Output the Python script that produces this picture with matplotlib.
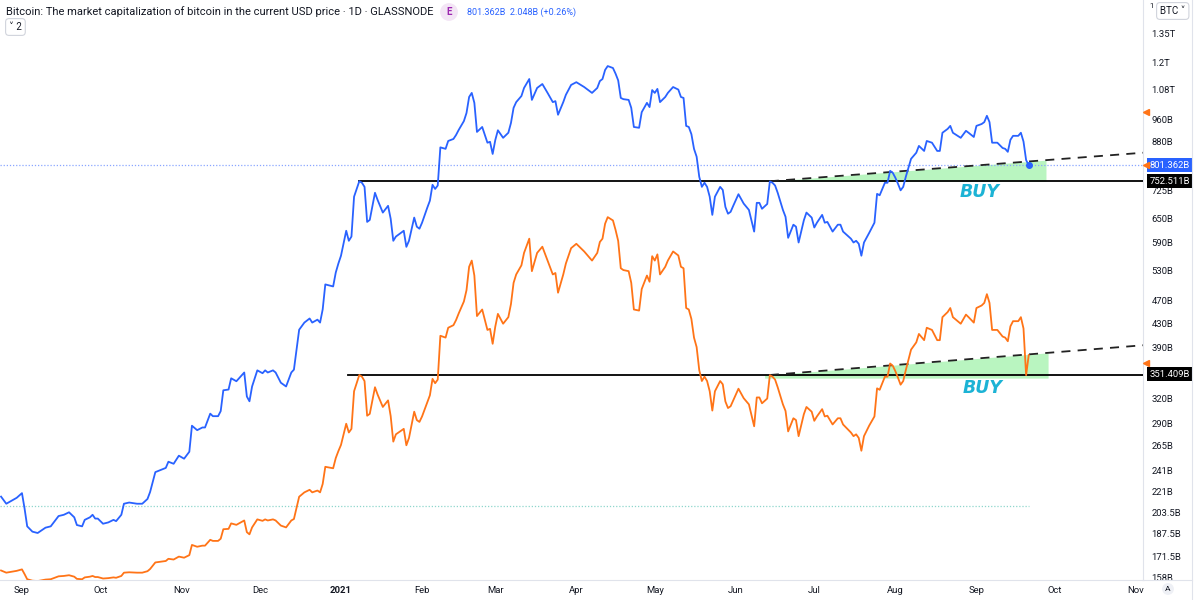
import numpy as np
import pandas as pd
import matplotlib
matplotlib.use('Agg')
import matplotlib.pyplot as plt
import matplotlib.transforms as mtransforms
from matplotlib.lines import Line2D

plt.rcParams['font.family'] = ['Roboto', 'DejaVu Sans']

start = pd.Timestamp('2020-09-01')

# days since 2020-09-01 / bitcoin market cap in billions USD
day = [-8, -6, -2, 0, 1, 2, 4, 6, 9, 11, 14, 16, 18, 20, 21, 23, 24, 26, 27, 28,
       29, 31, 33, 35, 36, 38, 39, 41, 44, 46, 48, 49, 51, 53, 55, 56, 58, 60, 62, 64,
       65, 67, 69, 70, 72, 73, 75, 76, 77, 79, 80, 82, 85, 86, 87, 88, 90, 92, 93, 94,
       96, 97, 99, 101, 103, 104, 106, 108, 110, 111, 113, 114, 115, 116, 119, 120, 121, 122, 124, 125,
       126, 127, 129, 130, 131, 132, 133, 135, 136, 138, 140, 141, 142, 143, 146, 147, 148, 150, 151, 152,
       153, 155, 156, 157, 158, 159, 160, 162, 163, 165, 166, 167, 169, 170, 171, 172, 173, 174, 176, 178,
       179, 180, 181, 182, 184, 186, 187, 188, 189, 191, 192, 194, 195, 197, 199, 201, 203, 204, 205, 207,
       208, 210, 212, 215, 218, 220, 221, 222, 223, 224, 226, 227, 228, 229, 230, 232, 233, 234, 236, 237,
       239, 240, 241, 242, 243, 244, 246, 247, 249, 251, 252, 253, 254, 255, 256, 257, 258, 259, 260, 261,
       262, 263, 264, 265, 267, 268, 269, 270, 271, 272, 274, 276, 278, 280, 281, 282, 283, 285, 286, 287,
       288, 289, 291, 292, 293, 295, 296, 297, 299, 300, 302, 303, 304, 306, 307, 308, 310, 312, 313, 314,
       317, 318, 319, 320, 321, 322, 324, 326, 327, 328, 330, 331, 332, 333, 334, 335, 336, 337, 338, 340,
       342, 343, 345, 346, 348, 350, 351, 352, 354, 355, 356, 359, 361, 362, 364, 365, 367, 368, 369, 370,
       371, 373, 375, 376, 377, 378, 379, 381, 382, 383, 384, 385]

# blue series, on the visible log scale
mcap = [217, 211, 216, 220, 207, 193, 189, 188, 192, 193, 201, 202, 204, 200, 194, 193, 198, 200, 202, 199,
        199, 195, 196, 198, 197, 202, 211, 212, 211, 211, 215, 221, 239, 241, 243, 249, 247, 255, 252, 259,
        287, 282, 285, 285, 301, 298, 298, 304, 330, 331, 346, 342, 354, 322, 316, 335, 357, 353, 357, 354,
        357, 354, 340, 335, 354, 358, 419, 431, 438, 431, 436, 431, 454, 501, 497, 525, 544, 561, 619, 595,
        605, 708, 752.5, 748, 736, 641, 646, 719, 699, 665, 683, 649, 595, 605, 619, 581, 595, 652, 629, 624,
        639, 678, 697, 742, 730, 740, 860, 855, 882, 889, 903, 921, 954, 985, 1049, 1066, 1025, 914, 932, 876,
        879, 838, 885, 920, 893, 911, 947, 1005, 1028, 1053, 1087, 1126, 1037, 1087, 1104, 1066, 1028, 1032, 978, 1028,
        1058, 1100, 1112, 1091, 1066, 1087, 1117, 1126, 1167, 1185, 1176, 1150, 1120, 1045, 1040, 1037, 1005, 932, 929, 988,
        1025, 1008, 1078, 1066, 1083, 1028, 1049, 1066, 1091, 1080, 1049, 1045, 936, 932, 906, 855, 829, 766, 736, 748,
        736, 708, 659, 708, 736, 727, 680, 662, 667, 683, 715, 689, 672, 617, 691, 691, 675, 688, 752, 748,
        740, 719, 672, 654, 602, 634, 629, 591, 645, 665, 652, 627, 639, 659, 639, 641, 617, 634, 634, 617,
        600, 591, 595, 588, 561, 591, 614, 639, 716, 712, 748, 748, 784, 778, 763, 745, 726, 736, 766, 822,
        842, 865, 848, 882, 876, 848, 848, 911, 925, 936, 911, 893, 918, 911, 896, 936, 943, 950, 974, 950,
        876, 876, 858, 855, 845, 886, 900, 900, 911, 880, 818, 801.362]

# orange series, on its own hidden linear scale
mcap_orange = [217, 211, 216, 220, 207, 193, 189, 188, 192, 193, 201, 202, 204, 200, 194, 193, 198, 200, 202, 199,
               199, 195, 196, 198, 197, 202, 211, 212, 211, 211, 215, 221, 239, 241, 243, 249, 247, 255, 252, 259,
               287, 282, 285, 285, 301, 298, 298, 304, 330, 331, 346, 342, 354, 322, 316, 335, 357, 353, 357, 354,
               357, 354, 340, 335, 354, 358, 419, 431, 438, 431, 436, 431, 454, 501, 497, 525, 544, 561, 619, 595,
               605, 708, 752.5, 748, 736, 641, 646, 719, 699, 665, 683, 640, 570, 590, 605, 560, 580, 652, 629, 624,
               639, 678, 697, 742, 730, 740, 860, 855, 882, 889, 903, 921, 954, 985, 1049, 1066, 1025, 914, 932, 876,
               879, 838, 885, 920, 893, 911, 947, 1005, 1028, 1053, 1087, 1126, 1037, 1087, 1104, 1066, 1028, 1032, 978, 1028,
               1058, 1100, 1112, 1091, 1066, 1087, 1117, 1126, 1167, 1185, 1176, 1150, 1120, 1045, 1040, 1037, 1005, 932, 929, 988,
               1025, 1008, 1078, 1066, 1083, 1028, 1049, 1066, 1091, 1080, 1049, 1045, 936, 932, 906, 855, 829, 766, 736, 748,
               736, 708, 655, 708, 736, 727, 680, 662, 667, 683, 715, 689, 672, 612, 691, 691, 675, 688, 752, 748,
               740, 719, 672, 654, 598, 634, 629, 585, 645, 665, 652, 627, 639, 659, 639, 641, 617, 634, 634, 617,
               595, 585, 590, 580, 545, 585, 614, 639, 716, 712, 748, 748, 784, 778, 763, 745, 726, 736, 766, 822,
               842, 865, 848, 882, 876, 848, 848, 911, 925, 936, 911, 893, 918, 911, 896, 936, 943, 950, 974, 950,
               876, 876, 858, 855, 845, 886, 900, 900, 911, 880, 752, 807]

ytick_vals = [1350, 1200, 1080, 960, 880, 725, 650, 590, 530, 470, 430, 390,
              320, 290, 265, 241, 221, 203.5, 187.5, 171.5, 158]
ytick_labels = ['1.35T', '1.2T', '1.08T', '960B', '880B', '725B', '650B', '590B',
                '530B', '470B', '430B', '390B', '320B', '290B', '265B', '241B',
                '221B', '203.5B', '187.5B', '171.5B', '158B']
month_labels = ['Sep', 'Oct', 'Nov', 'Dec', '2021', 'Feb', 'Mar', 'Apr', 'May',
                'Jun', 'Jul', 'Aug', 'Sep', 'Oct', 'Nov']

last_value = 801.362
resistance = 752.511
resistance_label_2 = 351.409
trend_start_day = 286
trend_end_blue = 842      # trendline value at right edge (blue pane)
trend_end_orange = 834    # trendline value at right edge (orange pane)
old_line_level = 209      # teal dotted line

BLUE = '#2962ff'
ORANGE = '#ff7417'
GREEN = '#b9f5c0'
BUY_COLOR = '#1cb3d5'
TEXT = '#131722'
GRID = '#e0e3eb'

dates = start + pd.to_timedelta(day, unit='D')
d = lambda n: start + pd.Timedelta(days=n)
x_left, x_right = d(-8.4), d(428.7)

fig = plt.figure(figsize=(12, 6), dpi=100)
ax = fig.add_axes([0, 20 / 600, 1143 / 1200, 580 / 600])
ax2 = ax.twinx()

# main (log) scale
ax.set_yscale('log')
ax.set_ylim(156.2, 1537.6)
ax.set_xlim(x_left, x_right)
ax2.set_ylim(190.9, 1779.9)   # hidden linear scale of the orange series

ax.plot(dates, mcap, color=BLUE, lw=1.3, zorder=4)
ax.plot(dates[-1], mcap[-1], 'o', color=BLUE, ms=4, zorder=5)
ax2.plot(dates, mcap_orange, color=ORANGE, lw=1.3, zorder=4)

# horizontal levels
ax.plot([d(129), x_right], [resistance, resistance], color='black', lw=1.3, zorder=3)
ax2.plot([d(124.7), x_right], [resistance, resistance], color='black', lw=1.3, zorder=3)
ax.axhline(last_value, color='#8aa6ff', lw=0.9, ls=(0, (1, 1.5)), zorder=2)
ax.plot([x_left, dates[-1]], [old_line_level, old_line_level], color='#8fd6cc',
        lw=0.9, ls=(0, (1, 1.5)), zorder=2)

# trend lines and buy zones
span = 428.7 - trend_start_day
ax.plot([d(trend_start_day), x_right], [resistance, trend_end_blue], color='#222',
        lw=1.3, ls=(0, (5, 4)), zorder=3)
ax2.plot([d(trend_start_day), x_right], [resistance, trend_end_orange], color='#222',
         lw=1.3, ls=(0, (5, 4)), zorder=3)

f1 = (391.6 - trend_start_day) / span
top1 = resistance * (trend_end_blue / resistance) ** f1
ax.fill_between([d(trend_start_day), d(391.6)], [resistance, resistance], [resistance, top1],
                color=GREEN, lw=0, zorder=1)
f2 = (392.4 - trend_start_day) / span
top2 = resistance + (trend_end_orange - resistance) * f2
ax2.fill_between([d(trend_start_day - 2), d(trend_start_day), d(392.4)], [744, 744, 744],
                 [resistance, resistance, top2], color=GREEN, lw=0, zorder=1)

ax.text(d(366.3), 721, 'BUY', color=BUY_COLOR, fontsize=12.5, fontweight='bold',
        fontstyle='italic', ha='center', va='center', family=['DejaVu Sans'])
ax.text(d(367.5), 333, 'BUY', color=BUY_COLOR, fontsize=12.5, fontweight='bold',
        fontstyle='italic', ha='center', va='center', family=['DejaVu Sans'])

# axes styling
for s in ['top', 'left']:
    ax.spines[s].set_visible(False)
    ax2.spines[s].set_visible(False)
for s in ['right', 'bottom']:
    ax.spines[s].set_color(GRID)
    ax.spines[s].set_linewidth(0.8)
ax2.spines['right'].set_visible(False)
ax2.spines['bottom'].set_visible(False)
ax2.set_yticks([])

ax.yaxis.tick_right()
ax.yaxis.set_minor_locator(matplotlib.ticker.NullLocator())
ax.set_yticks(ytick_vals, ytick_labels)
ax.tick_params(axis='y', length=0, pad=6, labelsize=6.8, labelcolor=TEXT)

months = pd.date_range('2020-09-01', '2021-11-01', freq='MS')
ax.set_xticks(months, month_labels)
ax.tick_params(axis='x', length=0, pad=4, labelsize=6.8, labelcolor=TEXT)
ax.get_xticklabels()[4].set_fontweight('bold')

# price labels on the scale
trans = mtransforms.blended_transform_factory(ax.transAxes, ax.transData)
for val, txt, bg in [(last_value, '801.362B', BLUE), (resistance, '752.511B', '#000000'),
                     (resistance_label_2, '351.409B', '#000000')]:
    ax.text(1.006, val, txt, transform=trans, color='white', fontsize=6.8,
            va='center', ha='left', clip_on=False, zorder=6,
            bbox=dict(boxstyle='square,pad=0.25', fc=bg, ec='none'))
ax.plot([1.0025] * 3, [989, last_value, 367.5], transform=trans, ls='none',
        marker='<', ms=4.5, color=ORANGE, clip_on=False, zorder=7)

# header
fig.text(6 / 1200, 1 - 12 / 600,
         'Bitcoin: The market capitalization of bitcoin in the current USD price \u00b7 1D \u00b7 GLASSNODE',
         fontsize=8.0, color=TEXT, va='center', ha='left')
fig.text(449 / 1200, 1 - 12 / 600, 'E', fontsize=7, color='#9c27b0', fontweight='bold',
         va='center', ha='center', bbox=dict(boxstyle='circle,pad=0.4', fc='#f3e5f5', ec='none'))
fig.text(467 / 1200, 1 - 12 / 600, '801.362B  2.048B (+0.26%)', fontsize=6.5,
         color=BLUE, va='center', ha='left')
fig.text(9 / 1200, 1 - 27 / 600, '\u02c5 2', fontsize=7, color=TEXT, va='center', ha='left',
         bbox=dict(boxstyle='round,pad=0.35', fc='white', ec='#d1d4dc', lw=0.8))
fig.text(1149 / 1200, 1 - 6 / 600, '1', fontsize=5.5, color=TEXT, va='center', ha='left')
fig.text(1160 / 1200, 1 - 11 / 600, 'BTC \u02c5', fontsize=7, color=TEXT, va='center', ha='left',
         bbox=dict(boxstyle='round,pad=0.35', fc='white', ec='#d1d4dc', lw=0.8))
fig.text(1168 / 1200, 1 - 589 / 600, 'A', fontsize=6, color=TEXT, va='center', ha='center',
         bbox=dict(boxstyle='circle,pad=0.35', fc='#eef0f5', ec='none'))

fig.add_artist(Line2D([1192 / 1200] * 2, [0, 1], color=GRID, lw=0.8))
fig.add_artist(Line2D([1143 / 1200, 1192 / 1200], [20 / 600] * 2, color=GRID, lw=0.8))

fig.savefig('out.png', dpi=100)
